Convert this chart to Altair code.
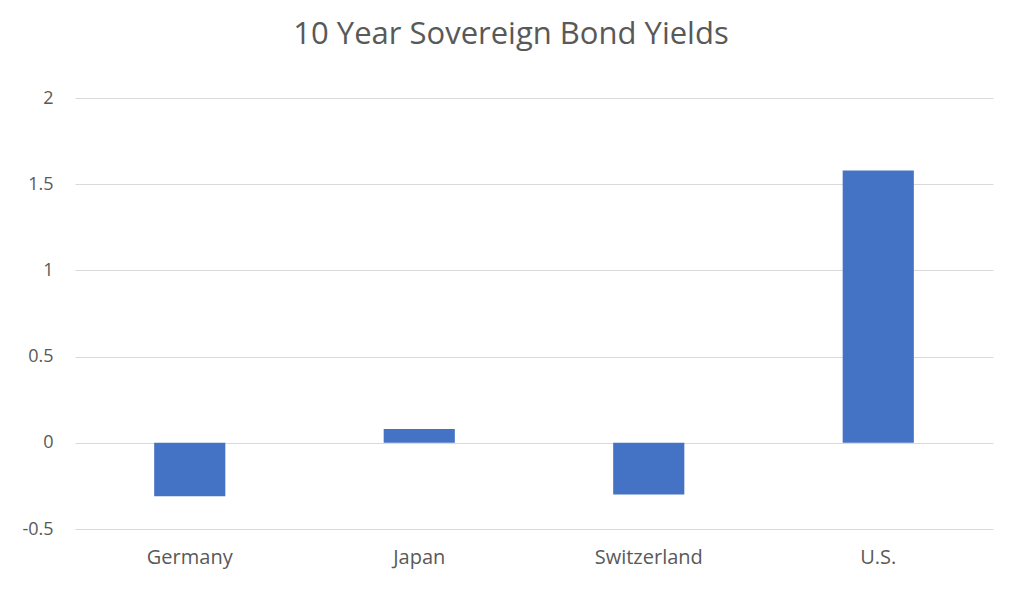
import altair as alt
import pandas as pd

countries = ["Germany", "Japan", "Switzerland", "U.S."]
yields = [-0.31, 0.08, -0.30, 1.58]
y_ticks = [-0.5, 0, 0.5, 1, 1.5, 2]

df = pd.DataFrame({"country": countries, "yield": yields})

FONT = "Open Sans"
TEXT = "#595959"

chart = (
    alt.Chart(df)
    .mark_bar(color="#4472C4")
    .encode(
        x=alt.X(
            "country:N",
            sort=countries,
            title=None,
            scale=alt.Scale(paddingInner=0.69, paddingOuter=0.345),
            axis=alt.Axis(
                labelAngle=0,
                labelFont=FONT,
                labelFontSize=20,
                labelColor=TEXT,
                labelPadding=18,
                domain=False,
                ticks=False,
                grid=False,
            ),
        ),
        y=alt.Y(
            "yield:Q",
            title=None,
            scale=alt.Scale(domain=[-0.5, 2], nice=False, zero=False),
            axis=alt.Axis(
                values=y_ticks,
                labelExpr="datum.value < 0 ? '-' + format(-datum.value, '~g') : format(datum.value, '~g')",
                labelFont=FONT,
                labelFontSize=18,
                labelColor=TEXT,
                labelPadding=22,
                domain=False,
                ticks=False,
                gridColor="#D9D9D9",
                gridWidth=1,
            ),
        ),
    )
    .properties(
        width=918,
        height=431,
        background="white",
        title=alt.TitleParams(
            "10 Year Sovereign Bond Yields",
            font=FONT,
            fontSize=31,
            fontWeight="normal",
            color=TEXT,
            anchor="middle",
            frame="group",
            baseline="alphabetic",
            offset=14,
            dx=-23,
        ),
        autosize=alt.AutoSizeParams(type="none"),
        padding={"left": 67, "top": 90, "right": 23, "bottom": 60},
    )
    .configure_view(strokeWidth=0, stroke=None)
)

chart.save("out.html", embed_options={"renderer": "svg", "actions": False})
